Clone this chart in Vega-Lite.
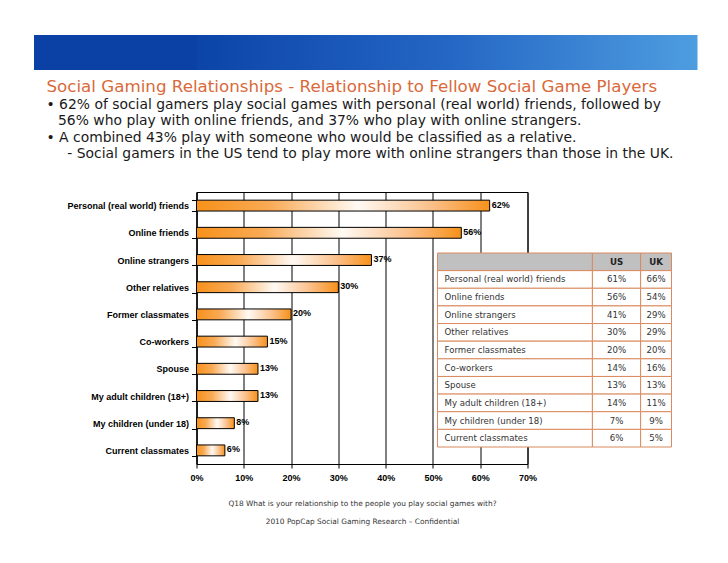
{
  "$schema": "https://vega.github.io/schema/vega-lite/v6.json",
  "background": "white",
  "padding": {"left": 15.5, "top": 34, "right": 5, "bottom": 5},
  "columns": 1,
  "align": "none",
  "bounds": "full",
  "spacing": 8,
  "datasets": {
    "bars": [
      {"relationship": "Personal (real world) friends", "pct": 0.62},
      {"relationship": "Online friends", "pct": 0.56},
      {"relationship": "Online strangers", "pct": 0.37},
      {"relationship": "Other relatives", "pct": 0.30},
      {"relationship": "Former classmates", "pct": 0.20},
      {"relationship": "Co-workers", "pct": 0.15},
      {"relationship": "Spouse", "pct": 0.13},
      {"relationship": "My adult children (18+)", "pct": 0.13},
      {"relationship": "My children (under 18)", "pct": 0.08},
      {"relationship": "Current classmates", "pct": 0.06}
    ],
    "table": [
      {"row": "header", "item": "", "US": null, "UK": null},
      {"row": "Personal (real world) friends", "item": "Personal (real world) friends", "US": 0.61, "UK": 0.66},
      {"row": "Online friends", "item": "Online friends", "US": 0.56, "UK": 0.54},
      {"row": "Online strangers", "item": "Online strangers", "US": 0.41, "UK": 0.29},
      {"row": "Other relatives", "item": "Other relatives", "US": 0.30, "UK": 0.29},
      {"row": "Former classmates", "item": "Former classmates", "US": 0.20, "UK": 0.20},
      {"row": "Co-workers", "item": "Co-workers", "US": 0.14, "UK": 0.16},
      {"row": "Spouse", "item": "Spouse", "US": 0.13, "UK": 0.13},
      {"row": "My adult children (18+)", "item": "My adult children (18+)", "US": 0.14, "UK": 0.11},
      {"row": "My children (under 18)", "item": "My children (under 18)", "US": 0.07, "UK": 0.09},
      {"row": "Current classmates", "item": "Current classmates", "US": 0.06, "UK": 0.05}
    ]
  },
  "concat": [
    {
      "width": 501,
      "height": 35,
      "view": {"stroke": null},
      "data": {"values": [{"banner": "header"}]},
      "mark": {
        "type": "rect",
        "fill": {
          "gradient": "linear", "x1": 0, "y1": 0, "x2": 1, "y2": 0,
          "stops": [
            {"offset": 0, "color": "#0c44a8"},
            {"offset": 0.5, "color": "#2466c4"},
            {"offset": 1, "color": "#4e9de0"}
          ]
        }
      },
      "encoding": {
        "y": {
          "field": "banner",
          "type": "nominal",
          "scale": {"paddingInner": 0, "paddingOuter": 0},
          "axis": {
            "title": null,
            "labels": false,
            "domain": false,
            "ticks": true,
            "tickSize": 163,
            "tickWidth": 35,
            "tickCap": "butt",
            "tickColor": "#0b41a5",
            "minExtent": 0
          }
        }
      }
    },
    {
      "width": 331,
      "height": 272,
      "view": {"stroke": "#000000", "strokeWidth": 1},
      "title": {
        "text": "Social Gaming Relationships - Relationship to Fellow Social Game Players",
        "subtitle": [
          "• 62% of social gamers play social games with personal (real world) friends, followed by",
          "\u200b\u2002\u200456% who play with online friends, and 37% who play with online strangers.",
          "• A combined 43% play with someone who would be classified as a relative.",
          "\u200b\u2003\u2002- Social gamers in the US tend to play more with online strangers than those in the UK."
        ],
        "anchor": "start",
        "frame": "group",
        "dx": -150,
        "offset": 27,
        "font": "DejaVu Sans",
        "fontSize": 16.7,
        "fontWeight": "normal",
        "color": "#D9693A",
        "subtitleFont": "DejaVu Sans",
        "subtitleFontSize": 13.9,
        "subtitleColor": "#1a1a1a",
        "subtitleLineHeight": 16.4,
        "subtitlePadding": 2
      },
      "resolve": {
        "scale": {"x": "independent", "y": "independent"},
        "axis": {"x": "independent", "y": "independent"}
      },
      "layer": [
        {
          "data": {"name": "bars"},
          "layer": [
            {
              "mark": {
                "type": "bar",
                "stroke": "#000000",
                "strokeWidth": 1,
                "fill": {
                  "gradient": "linear", "x1": 0, "y1": 0, "x2": 1, "y2": 0,
                  "stops": [
                    {"offset": 0, "color": "#f7911a"},
                    {"offset": 0.25, "color": "#f9aa55"},
                    {"offset": 0.55, "color": "#fffaf4"},
                    {"offset": 0.8, "color": "#fbc08a"},
                    {"offset": 1, "color": "#f7911a"}
                  ]
                }
              },
              "encoding": {
                "y": {
                  "field": "relationship",
                  "type": "nominal",
                  "sort": null,
                  "scale": {"paddingInner": 0.6, "paddingOuter": 0.3},
                  "axis": {
                    "title": null,
                    "domainColor": "#000000",
                    "tickColor": "#000000",
                    "tickBand": "extent",
                    "tickSize": 5,
                    "labelFont": "Liberation Sans",
                    "labelFontWeight": "bold",
                    "labelFontSize": 9,
                    "labelColor": "#000000",
                    "labelPadding": 3,
                    "labelLimit": 200,
                    "minExtent": 163
                  }
                },
                "x": {
                  "field": "pct",
                  "type": "quantitative",
                  "scale": {"domain": [0, 0.7], "nice": false},
                  "axis": {
                    "values": [0, 0.1, 0.2, 0.3, 0.4, 0.5, 0.6, 0.7],
                    "format": ".0%",
                    "grid": true,
                    "gridColor": "#000000",
                    "gridOpacity": 1,
                    "domainColor": "#000000",
                    "tickColor": "#000000",
                    "tickSize": 4,
                    "labelFlush": false,
                    "labelFont": "Liberation Sans",
                    "labelFontWeight": "bold",
                    "labelFontSize": 9,
                    "labelColor": "#000000",
                    "labelPadding": 5,
                    "title": [
                      "Q18  What is your relationship to the people you play social games with?",
                      "2010 PopCap Social Gaming Research \u2013 Confidential"
                    ],
                    "titleFont": "DejaVu Sans",
                    "titleFontSize": 7.4,
                    "titleFontWeight": "normal",
                    "titleColor": "#333333",
                    "titlePadding": 17,
                    "titleLineHeight": 18
                  }
                }
              }
            },
            {
              "mark": {
                "type": "text",
                "align": "left",
                "baseline": "middle",
                "dx": 2,
                "dy": -1,
                "font": "Liberation Sans",
                "fontWeight": "bold",
                "fontSize": 9,
                "color": "#000000"
              },
              "encoding": {
                "y": {"field": "relationship", "type": "nominal", "sort": null},
                "x": {"field": "pct", "type": "quantitative"},
                "text": {"field": "pct", "type": "quantitative", "format": ".0%"}
              }
            }
          ]
        },
        {
          "data": {"name": "table"},
          "layer": [
            {
              "mark": {"type": "rect", "stroke": "#DA8A5E", "strokeWidth": 1},
              "encoding": {
                "y": {
                  "field": "row",
                  "type": "nominal",
                  "scale": {
                    "domain": ["header", "Personal (real world) friends", "Online friends", "Online strangers", "Other relatives", "Former classmates", "Co-workers", "Spouse", "My adult children (18+)", "My children (under 18)", "Current classmates"],
                    "range": [61, 255],
                    "paddingInner": 0,
                    "paddingOuter": 0
                  },
                  "axis": null
                },
                "x": {"datum": 0, "type": "quantitative", "scale": {"domain": [0, 1], "range": [241, 475]}, "axis": null},
                "x2": {"datum": 0.662},
                "fill": {"condition": {"test": "datum.row === 'header'", "value": "#C0C0C0"}, "value": "#FFFFFF"}
              }
            },
            {
              "mark": {"type": "rect", "stroke": "#DA8A5E", "strokeWidth": 1},
              "encoding": {
                "y": {"field": "row", "type": "nominal"},
                "x": {"datum": 0.662, "type": "quantitative"},
                "x2": {"datum": 0.868},
                "fill": {"condition": {"test": "datum.row === 'header'", "value": "#C0C0C0"}, "value": "#FFFFFF"}
              }
            },
            {
              "mark": {"type": "rect", "stroke": "#DA8A5E", "strokeWidth": 1},
              "encoding": {
                "y": {"field": "row", "type": "nominal"},
                "x": {"datum": 0.868, "type": "quantitative"},
                "x2": {"datum": 1},
                "fill": {"condition": {"test": "datum.row === 'header'", "value": "#C0C0C0"}, "value": "#FFFFFF"}
              }
            },
            {
              "transform": [{"filter": "datum.row !== 'header'"}],
              "mark": {"type": "text", "align": "left", "baseline": "middle", "dx": 7, "font": "DejaVu Sans", "fontSize": 8.6, "color": "#333333"},
              "encoding": {
                "y": {"field": "row", "type": "nominal"},
                "x": {"datum": 0, "type": "quantitative"},
                "text": {"field": "item"}
              }
            },
            {
              "transform": [{"filter": "datum.row !== 'header'"}],
              "mark": {"type": "text", "align": "center", "baseline": "middle", "font": "DejaVu Sans", "fontSize": 8.6, "color": "#333333"},
              "encoding": {
                "y": {"field": "row", "type": "nominal"},
                "x": {"datum": 0.765, "type": "quantitative"},
                "text": {"field": "US", "type": "quantitative", "format": ".0%"}
              }
            },
            {
              "transform": [{"filter": "datum.row !== 'header'"}],
              "mark": {"type": "text", "align": "center", "baseline": "middle", "font": "DejaVu Sans", "fontSize": 8.6, "color": "#333333"},
              "encoding": {
                "y": {"field": "row", "type": "nominal"},
                "x": {"datum": 0.934, "type": "quantitative"},
                "text": {"field": "UK", "type": "quantitative", "format": ".0%"}
              }
            },
            {
              "transform": [{"filter": "datum.row === 'header'"}],
              "mark": {"type": "text", "align": "center", "baseline": "middle", "font": "DejaVu Sans", "fontSize": 8.6, "fontWeight": "bold", "color": "#222222", "text": "US"},
              "encoding": {
                "y": {"field": "row", "type": "nominal"},
                "x": {"datum": 0.765, "type": "quantitative"}
              }
            },
            {
              "transform": [{"filter": "datum.row === 'header'"}],
              "mark": {"type": "text", "align": "center", "baseline": "middle", "font": "DejaVu Sans", "fontSize": 8.6, "fontWeight": "bold", "color": "#222222", "text": "UK"},
              "encoding": {
                "y": {"field": "row", "type": "nominal"},
                "x": {"datum": 0.934, "type": "quantitative"}
              }
            }
          ]
        }
      ]
    }
  ]
}
